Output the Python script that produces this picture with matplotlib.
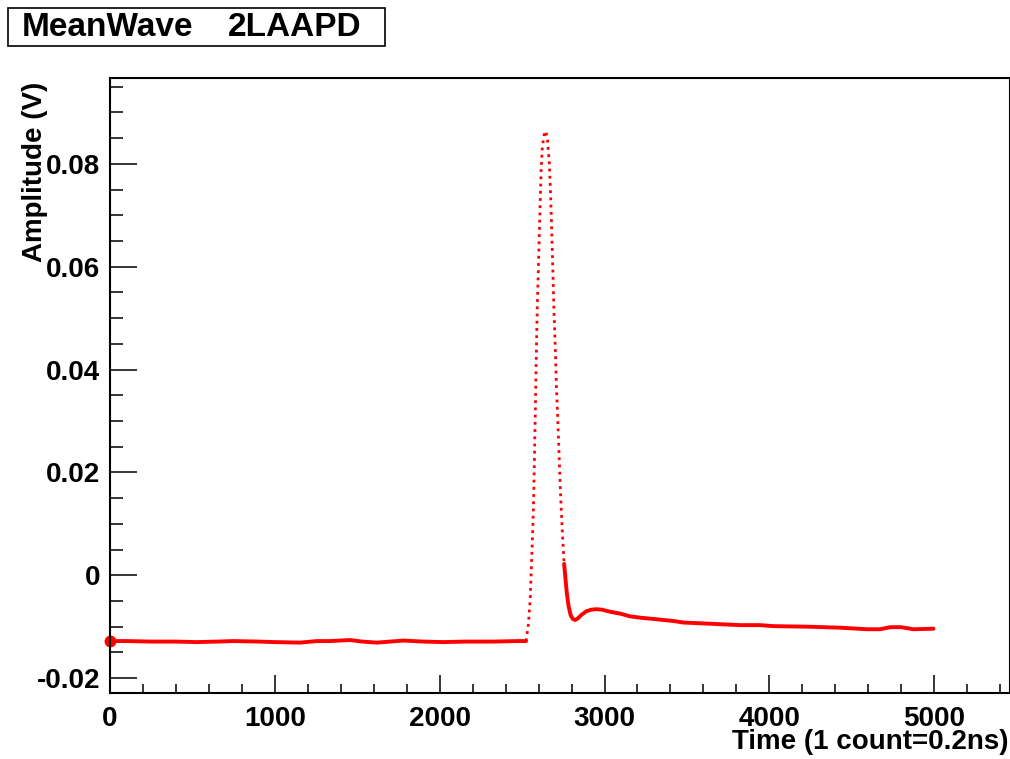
import numpy as np
import matplotlib
matplotlib.use("Agg")
import matplotlib.pyplot as plt
from matplotlib.patches import Rectangle
from matplotlib.ticker import MultipleLocator, FuncFormatter

plt.rcParams['font.family'] = ['Liberation Sans', 'DejaVu Sans']
plt.rcParams['font.weight'] = 'bold'

# mean waveform (time in counts, amplitude in V)
time_counts = [0, 100, 250, 400, 527, 650, 747, 900, 1000, 1153, 1256, 1335,
               1456, 1530, 1620, 1700, 1780, 1900, 2022, 2150, 2325, 2468,
               2510, 2524,
               2538, 2549, 2557, 2565, 2571, 2575, 2579, 2583, 2587, 2591,
               2597, 2603, 2609, 2615, 2623, 2634, 2644, 2654, 2666, 2674,
               2682, 2688, 2694, 2702, 2708, 2717, 2725, 2733, 2743, 2755,
               2771, 2782, 2795, 2808, 2822, 2838, 2860, 2890, 2920, 2950,
               2985, 3034, 3100, 3155, 3230, 3297, 3418, 3479, 3621, 3823,
               3944, 4025, 4227, 4430, 4593, 4672, 4733, 4800, 4873, 4996]
amplitude = [-0.0128, -0.0128, -0.0129, -0.0129, -0.0130, -0.0129, -0.0128,
             -0.0129, -0.0130, -0.0131, -0.0128, -0.0128, -0.0126, -0.0129,
             -0.0131, -0.0129, -0.0127, -0.0129, -0.0130, -0.0129, -0.0129,
             -0.0128, -0.0128, -0.0128,
             -0.0096, -0.0048, 0.0022, 0.0091, 0.0160, 0.0230, 0.0299,
             0.0368, 0.0438, 0.0507, 0.0576, 0.0646, 0.0715, 0.0784, 0.0833,
             0.0857, 0.0864, 0.0847, 0.0798, 0.0729, 0.0646, 0.0576, 0.0507,
             0.0438, 0.0368, 0.0299, 0.0230, 0.0160, 0.0091, 0.0022,
             -0.0034, -0.0060, -0.0078, -0.0085, -0.0087, -0.0084, -0.0077,
             -0.0070, -0.0067, -0.0066, -0.0067, -0.0071, -0.0075, -0.0080,
             -0.0083, -0.0085, -0.0089, -0.0092, -0.0094, -0.0097,
             -0.0097, -0.0099, -0.0100, -0.0102, -0.0105, -0.0105, -0.0101,
             -0.0101, -0.0105, -0.0104]

title_left = "MeanWave"
title_right = "2LAAPD"
x_title = "Time (1 count=0.2ns)"
y_title = "Amplitude (V)"

W, H = 1010, 759
fig = plt.figure(figsize=(W / 100, H / 100), dpi=100)
ax = fig.add_axes([110 / W, 1 - 693 / H, 1 - 110 / W, (693 - 78) / H])

t = np.array(time_counts)
v = np.array(amplitude)
red = "#ff0000"

# slow parts look like a thick band, the fast pulse shows single samples
slow_a = t <= 2524
fast = (t >= 2524) & (t <= 2755)
slow_b = t >= 2755
ax.plot(t[slow_a], v[slow_a], color=red, lw=2.8, solid_capstyle="round",
        solid_joinstyle="round")
ax.plot(t[slow_b], v[slow_b], color=red, lw=2.8, solid_capstyle="round",
        solid_joinstyle="round")
ax.plot(t[fast], v[fast], color=red, lw=2.0, linestyle=(0, (1.0, 1.6)))
ax.plot([t[0]], [v[0]], "o", color=red, ms=7.5, clip_on=False, zorder=1)

ax.set_xlim(0, 5460)
ax.set_ylim(-0.0229, 0.0967)

ax.xaxis.set_major_locator(MultipleLocator(1000))
ax.xaxis.set_minor_locator(MultipleLocator(200))
ax.yaxis.set_major_locator(MultipleLocator(0.02))
ax.yaxis.set_minor_locator(MultipleLocator(0.005))
ax.yaxis.set_major_formatter(FuncFormatter(lambda y, p: "0" if abs(y) < 1e-9 else f"{y:.2f}"))

ax.tick_params(axis="both", which="both", direction="in", width=1.1,
               top=False, right=False, labelsize=20)
ax.tick_params(axis="x", which="major", length=13, pad=9)
ax.tick_params(axis="x", which="minor", length=6.5)
ax.tick_params(axis="y", which="major", length=19.5, pad=7)
ax.tick_params(axis="y", which="minor", length=9.7)
for lab in ax.get_xticklabels() + ax.get_yticklabels():
    lab.set_fontweight("bold")
for s in ax.spines.values():
    s.set_linewidth(1.5)

fig.text(1008 / W, 1 - 742 / H, x_title, ha="right", va="center",
         fontsize=20, fontweight="bold")
fig.text(35 / W, 1 - 82 / H, y_title, ha="center", va="top", rotation=90,
         fontsize=20, fontweight="bold")

fig.add_artist(Rectangle((8 / W, 1 - 46 / H), 377 / W, 38 / H,
                         transform=fig.transFigure, fill=False,
                         edgecolor="black", lw=1.2))
fig.text(22 / W, 1 - 28 / H, title_left, ha="left", va="center",
         fontsize=24, fontweight="bold")
fig.text(228 / W, 1 - 28 / H, title_right, ha="left", va="center",
         fontsize=24, fontweight="bold")

fig.savefig("out.png", dpi=100)
